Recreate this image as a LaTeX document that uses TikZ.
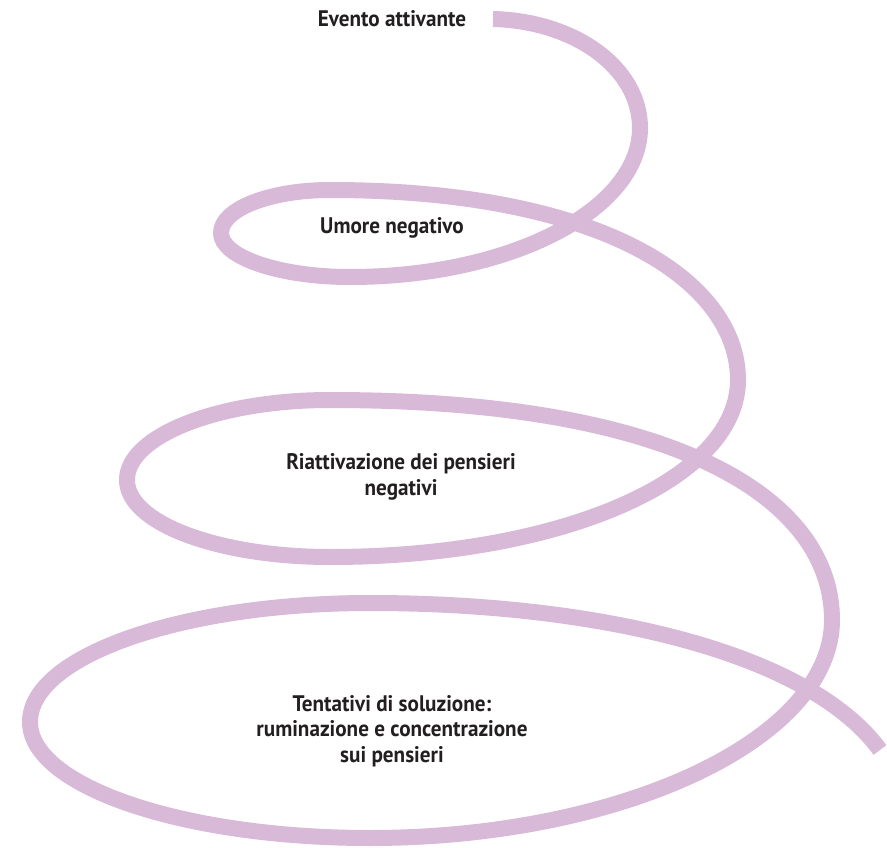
\documentclass[tikz,border=0pt]{standalone}
\usepackage{fontspec}
\setmainfont{PT Sans}[FakeStretch=0.94]
\definecolor{lilac}{HTML}{D8B9D8}
\definecolor{txt}{HTML}{231F20}
\begin{document}
\begin{tikzpicture}[x=1pt,y=-1pt,
  spiral/.style={draw=lilac,line width=16pt,line cap=butt,line join=round},
  lbl/.style={align=center,inner sep=0pt,text=txt,font=\bfseries\fontsize{22.5}{25.5}\selectfont}]
\useasboundingbox (0,0) rectangle (887,848);
\draw[spiral] (493,19)
  .. controls (575,21) and (640,68) .. (640,128)
  .. controls (640,210) and (510,277) .. (350,277)
  .. controls (279,277) and (221,257) .. (221,233)
  .. controls (221,209) and (270,190) .. (330,190)
  .. controls (600,190) and (738,280) .. (738,380)
  .. controls (738,480) and (560,557) .. (330,557)
  .. controls (218,557) and (127,523) .. (127,480)
  .. controls (127,436) and (218,400) .. (330,400)
  .. controls (680,400) and (832,500) .. (832,620)
  .. controls (832,740) and (620,838) .. (370,838)
  .. controls (182,838) and (30,786) .. (30,722)
  .. controls (30,656) and (182,603) .. (370,603)
  .. controls (600,603) and (809,653) .. (880,750);
\node[lbl] (ev) at (392,19) {Evento attivante};
\node[lbl] (um) at (392,228) {Umore negativo};
\node[lbl] (ri) at (401,477) {Riattivazione dei pensieri\\negativi};
\node[lbl] (te) at (392,731) {Tentativi di soluzione:\\ruminazione e concentrazione\\sui pensieri};
\end{tikzpicture}
\end{document}
